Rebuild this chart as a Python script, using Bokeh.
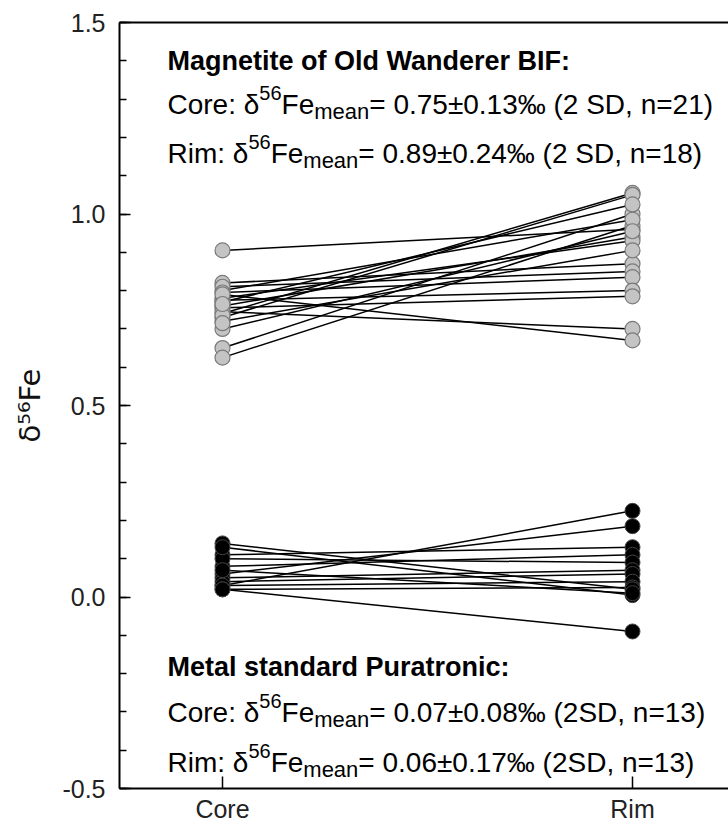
import numpy as np
from bokeh.plotting import figure
from bokeh.models import Range1d, FixedTicker, LinearAxis, Label, ColumnDataSource
from bokeh.embed import file_html
from bokeh.resources import INLINE

# ---------------- data ----------------
categories = ["Core", "Rim"]
y_ticks = [-0.5, 0.0, 0.5, 1.0, 1.5]
y_tick_labels = ["-0.5", "0.0", "0.5", "1.0", "1.5"]
y_title = "δ⁵⁶Fe"

# Magnetite of Old Wanderer BIF (paired core -> rim)
mag_core = [0.905, 0.650, 0.625, 0.740, 0.730, 0.770, 0.800, 0.760, 0.780,
            0.820, 0.810, 0.795, 0.720, 0.775, 0.755, 0.745, 0.790, 0.700]
mag_rim = [0.960, 1.000, 0.970, 1.055, 1.050, 1.025, 0.985, 0.940, 0.930,
           0.870, 0.850, 0.835, 0.905, 0.800, 0.785, 0.700, 0.670, 0.955]
mag_core_extra = [0.735, 0.715, 0.765]

# Metal standard Puratronic (paired core -> rim)
pur_core = [0.03, 0.06, 0.11, 0.08, 0.10, 0.05, 0.04, 0.03, 0.02, 0.14, 0.13, 0.07, 0.02]
pur_rim = [0.225, 0.185, 0.13, 0.11, 0.09, 0.07, 0.06, 0.04, 0.025, 0.02, 0.005, 0.01, -0.09]

mag_title = "Magnetite of Old Wanderer BIF:"
mag_stats = [("Core", "0.75", "0.13", "2 SD", 21), ("Rim", "0.89", "0.24", "2 SD", 18)]
pur_title = "Metal standard Puratronic:"
pur_stats = [("Core", "0.07", "0.08", "2SD", 13), ("Rim", "0.06", "0.17", "2SD", 13)]

# ---------------- layout helpers ----------------
FONT = "Liberation Sans"
WIDTH, HEIGHT = 728, 825
FR_L, FR_R, FR_T, FR_B = 119, 728, 22, 788     # frame in canvas px
X_CORE_PX, X_RIM_PX = 222, 632
ppu_x = X_RIM_PX - X_CORE_PX
x_start = 1 - (X_CORE_PX - FR_L) / ppu_x
x_end = 2 + (FR_R - X_RIM_PX) / ppu_x
ppu_y = (FR_B - FR_T) / 2.0


def dx(px):
    return x_start + (px - FR_L) / ppu_x


def dy(py):
    return -0.5 + (FR_B - py) / ppu_y


W = {' ': 278, '(': 333, ')': 333, ',': 278, '.': 278, ':': 278, '=': 584, '±': 584,
     '‰': 1000, 'C': 722, 'D': 722, 'F': 611, 'R': 722, 'S': 667, 'a': 556, 'e': 556,
     'i': 222, 'm': 833, 'n': 556, 'o': 556, 'r': 333, 'δ': 556}


def tw(s, size):
    return sum(W.get(c, 556) for c in s) * size / 1000.0


p = figure(width=WIDTH, height=HEIGHT, output_backend="svg", toolbar_location=None,
           x_range=Range1d(x_start, x_end), y_range=Range1d(-0.5, 1.5),
           min_border_left=FR_L, min_border_right=WIDTH - FR_R, min_border_top=FR_T,
           min_border_bottom=HEIGHT - FR_B)
p.outline_line_color = None
p.grid.visible = False
p.background_fill_color = "white"
p.border_fill_color = "white"

# x axis
xa = p.xaxis[0]
xa.ticker = FixedTicker(ticks=[1, 2])
xa.major_label_overrides = {i + 1: c for i, c in enumerate(categories)}
xa.major_tick_in = 12
xa.major_tick_out = 0
xa.minor_tick_line_color = None
xa.axis_line_width = 2
xa.major_tick_line_width = 1.5
xa.major_label_text_font = FONT
xa.major_label_text_font_size = "25px"
xa.major_label_text_color = "#222222"
xa.major_label_standoff = 6

# y axis
ya = p.yaxis[0]
ya.ticker = FixedTicker(ticks=y_ticks, minor_ticks=list(np.round(np.arange(-0.5, 1.51, 0.1), 2)))
ya.major_label_overrides = {t: l for t, l in zip(y_ticks, y_tick_labels)}
ya.major_tick_in = 11
ya.major_tick_out = 0
ya.minor_tick_in = 7
ya.minor_tick_out = 0
ya.axis_line_width = 2
ya.major_tick_line_width = 1.5
ya.minor_tick_line_width = 1.5
ya.major_label_text_font = FONT
ya.major_label_text_font_size = "25px"
ya.major_label_text_color = "#222222"
ya.major_label_standoff = 14
ya.axis_label = y_title
ya.axis_label_text_font = "DejaVu Sans"
ya.axis_label_text_font_style = "normal"
ya.axis_label_text_font_size = "29px"
ya.axis_label_text_color = "#111111"
ya.axis_label_standoff = 12

# top border line
top = LinearAxis(ticker=FixedTicker(ticks=[]), major_label_text_font_size="0px",
                 axis_line_width=2, major_tick_line_color=None, minor_tick_line_color=None,
                 major_label_standoff=0)
p.add_layout(top, "above")

# ---------------- marks ----------------
src_mag = ColumnDataSource(dict(x0=[1] * len(mag_core), y0=mag_core,
                                x1=[2] * len(mag_rim), y1=mag_rim))
src_pur = ColumnDataSource(dict(x0=[1] * len(pur_core), y0=pur_core,
                                x1=[2] * len(pur_rim), y1=pur_rim))
p.segment(x0="x0", y0="y0", x1="x1", y1="y1", source=src_mag, line_color="black", line_width=1.5)
p.segment(x0="x0", y0="y0", x1="x1", y1="y1", source=src_pur, line_color="black", line_width=1.5)

mag_core_all = mag_core + mag_core_extra
p.scatter(x=[1] * len(mag_core_all), y=mag_core_all, size=15, fill_color="#c4c4c4",
          line_color="#7a7a7a", line_width=1.2)
p.scatter(x=[2] * len(mag_rim), y=mag_rim, size=15, fill_color="#c4c4c4",
          line_color="#7a7a7a", line_width=1.2)
p.scatter(x=[1] * len(pur_core), y=pur_core, size=15, fill_color="black",
          line_color="#444444", line_width=1)
p.scatter(x=[2] * len(pur_rim), y=pur_rim, size=15, fill_color="black",
          line_color="#444444", line_width=1)

# ---------------- annotation text ----------------
TITLE, MAIN, SUP, SUB = 27, 28, 20, 22


def lab(px, py, text, size, bold=False):
    p.add_layout(Label(x=dx(px), y=dy(py), x_units="data", y_units="data", text=text,
                       text_font=FONT, text_font_size=f"{size}px",
                       text_font_style="bold" if bold else "normal",
                       text_color="black", text_align="left", text_baseline="alphabetic"))


def stat_line(px, base, stat):
    name, mean, sd, sdlab, n = stat
    pieces = [(f"{name}: δ", MAIN, 0), ("56", SUP, -12), ("Fe", MAIN, 0), ("mean", SUB, 7),
              (f"= {mean}±{sd}‰ ({sdlab}, n={n})", MAIN, 0)]
    x = px
    for t, s, sh in pieces:
        lab(x, base + sh, t, s)
        x += tw(t, s)


TX = 167
lab(TX, 60, mag_title, TITLE, bold=True)
stat_line(TX, 104, mag_stats[0])
stat_line(TX, 153, mag_stats[1])
lab(TX, 666, pur_title, TITLE, bold=True)
stat_line(TX, 712, pur_stats[0])
stat_line(TX, 762, pur_stats[1])

open("out.html", "w").write(file_html(p, INLINE))
